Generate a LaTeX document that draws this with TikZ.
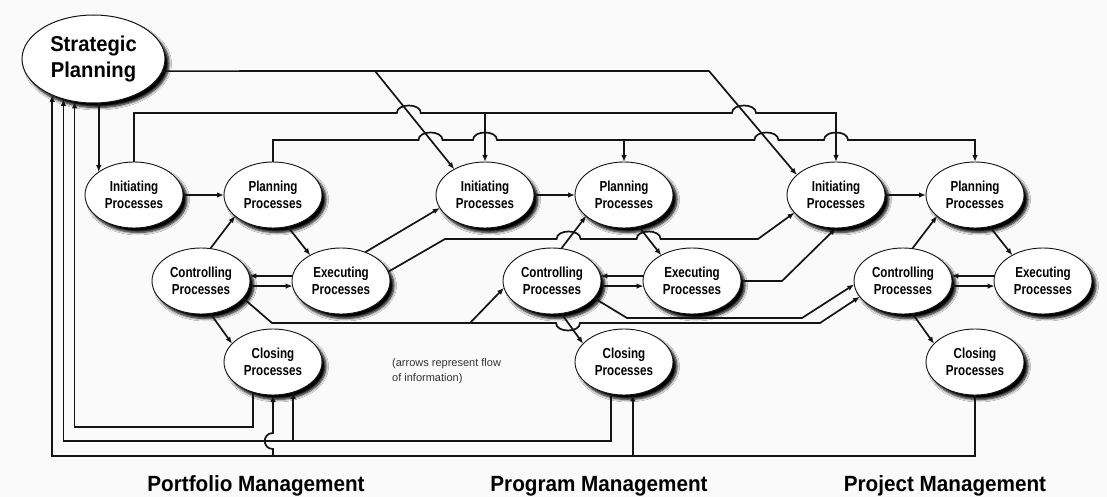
\documentclass[tikz,border=0pt]{standalone}
\usepackage{fontspec}
\setmainfont{Liberation Sans}
\newfontfamily\labelfont{Liberation Sans}[FakeStretch=0.8]
\newfontfamily\headfont{Liberation Sans}[FakeStretch=0.94]
\usetikzlibrary{shapes.geometric,arrows.meta,shadows.blur}
\definecolor{paper}{HTML}{FAFAFA}
\definecolor{ink}{HTML}{141414}
% a horizontal line hopping over a crossing connector
\newcommand\hopup[2]{-- ({#1-12},#2) .. controls ({#1-12},{#2-10}) and ({#1+12},{#2-10}) .. ({#1+12},#2)}
\newcommand\hopdown[2]{-- ({#1-12},#2) .. controls ({#1-12},{#2+10}) and ({#1+12},{#2+10}) .. ({#1+12},#2)}

\begin{document}
\begin{tikzpicture}[x=1pt,y=-1pt,
  link/.style={draw=ink,line width=1.7pt},
  arr/.style={link,-{Latex[length=7pt,width=5.5pt]}},
  shade/.style={blur shadow={shadow xshift=4pt,shadow yshift=-4.5pt,shadow blur radius=2.5pt,shadow blur steps=6,shadow opacity=100}},
  proc/.style={ellipse,draw=ink,line width=0.9pt,fill=white,
    minimum width=98pt,minimum height=66pt,inner sep=0pt,outer sep=0pt,
    align=center,font=\labelfont\bfseries\fontsize{14.5}{17}\selectfont,shade},
  plan/.style={ellipse,draw=ink,line width=1pt,fill=white,
    minimum width=143pt,minimum height=88pt,inner sep=0pt,outer sep=0pt,
    align=center,font=\headfont\bfseries\fontsize{21.5}{26}\selectfont,shade},
  title/.style={anchor=base,inner sep=0pt,font=\headfont\bfseries\fontsize{22}{26}\selectfont},
  note/.style={anchor=north west,inner sep=0pt,align=left,text=black!80,font=\fontsize{11}{15}\selectfont}]

\fill[paper] (0,0) rectangle (1107,497);
\useasboundingbox (0,0) rectangle (1107,497);

% strategic planning
\node[plan] (SP) at (93.5,59) {Strategic\\Planning};

% the three process groups
\foreach \k/\dx in {1/0,2/351,3/702}{
  \node[proc] (I\k) at (134+\dx,195) {Initiating\\Processes};
  \node[proc] (P\k) at (273+\dx,195) {Planning\\Processes};
  \node[proc] (C\k) at (201+\dx,281) {Controlling\\Processes};
  \node[proc] (E\k) at (341+\dx,281) {Executing\\Processes};
  \node[proc] (L\k) at (273+\dx,362) {Closing\\Processes};
}

% flows inside each group
\foreach \k in {1,2,3}{
  \draw[arr] (I\k.east) -- (P\k.west);
  \draw[arr] (C\k.74) -- (P\k.209);
  \draw[arr] (P\k.295) -- (E\k.140);
  \draw[arr] (E\k.174) -- (C\k.6);
  \draw[arr] (C\k.354) -- (E\k.186);
  \draw[arr] (C\k.286) -- (L\k.156);
}

% strategic planning to the initiating processes
\draw[arr] (SP.-82 -| I1.147) -- (I1.147);
\coordinate (ta) at (375,71);
\coordinate (tb) at (709,71);
\draw[arr] (SP.-10) -- (tb) -- (I3.153);
\draw[arr] (ta) -- (I2.140);

% portfolio initiating to program and project initiating
\draw[arr] (I1.north) -- (I1.north |- 0,113) \hopup{408.8}{113}
  -- (I2.north |- 0,113) \hopup{744}{113} -- (I3.north |- 0,113) -- (I3.north);
\draw[arr] (I2.north |- 0,113) -- (I2.north);

% portfolio planning to program and project planning
\draw[arr] (P1.north) -- (P1.north |- 0,140) \hopup{430.5}{140} \hopup{485}{140}
  -- (P2.north |- 0,140) \hopup{766.4}{140} \hopup{836}{140} -- (P3.north |- 0,140) -- (P3.north);
\draw[arr] (P2.north |- 0,140) -- (P2.north);

% executing to the next level's initiating
\draw[arr] (E1.50) -- (I2.196);
\coordinate (ea) at (445,239);
\coordinate (eb) at (758,239);
\draw[arr] (E1.11) -- (ea) \hopup{568.6}{239} \hopup{648.6}{239} -- (eb) -- (I3.203);
\coordinate (fa) at (782,281);
\draw[arr] (E2.east) -- (fa) -- (I3.south);

% controlling to the next level's controlling
\coordinate (ca) at (272,323);
\coordinate (cb) at (470,323);
\coordinate (cc) at (820,323);
\draw[arr] (C1.338) -- (ca) \hopdown{568}{323} -- (cc) -- (C3.200);
\draw[arr] (cb) -- (C2.188);
\coordinate (da) at (627,318);
\coordinate (db) at (802,318);
\draw[arr] (C2.338) -- (da) -- (db) -- (C3.184);

% closing feedback to strategic planning and upper levels
\draw[arr] (L1.236) |- (SP.246 |- 0,427) -- (SP.246);
\draw[arr] (L2.248) |- (SP.233 |- 0,441) -- (SP.233);
\draw[arr] (L1.304 |- 0,441) -- (L1.304);
\draw[arr] (L3.south) |- (SP.221 |- 0,456) -- (SP.221);
\draw[arr] (L2.285 |- 0,456) -- (L2.285);
\draw[arr] (L1.south |- 0,456) -- (L1.south |- 0,449)
  .. controls +(-11,0) and +(-11,0) .. (L1.south |- 0,433) -- (L1.south);

% remark and group titles
\node[note] (remark) at (392,358) {(arrows represent flow\\of information)};
\node[title] (tport) at (256,491) {Portfolio Management};
\node[title] (tprog) at (599,491) {Program Management};
\node[title] (tproj) at (945,491) {Project Management};
\end{tikzpicture}
\end{document}
